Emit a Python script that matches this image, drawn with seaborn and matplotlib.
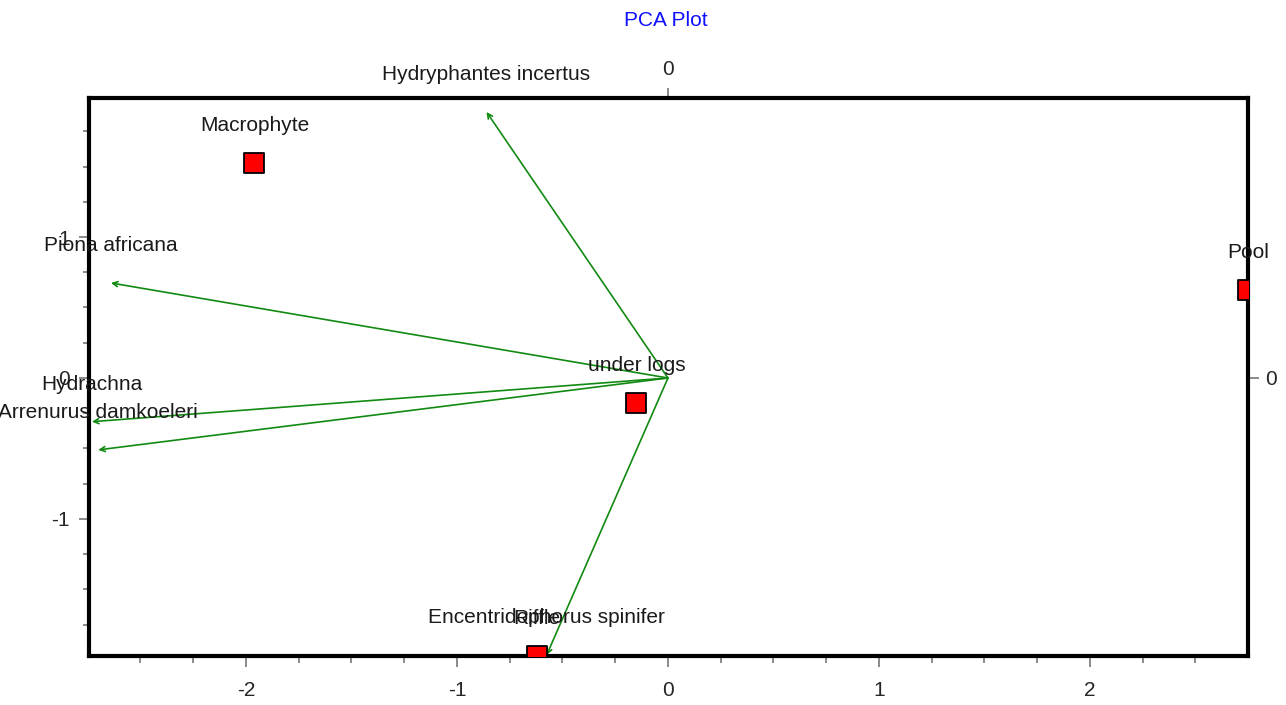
import matplotlib
matplotlib.use("Agg")
import matplotlib.pyplot as plt
import seaborn as sns
import pandas as pd
from matplotlib.ticker import MultipleLocator

# ---- data ----
sites = ["Macrophyte", "under logs", "Pool", "Riffle"]
site_x = [-1.96, -0.15, 2.749, -0.622]
site_y = [1.525, -0.18, 0.625, -1.972]

species = ["Hydryphantes incertus", "Piona africana", "Hydrachna",
           "Arrenurus damkoeleri", "Encentridophorus spinifer"]
sp_x = [-0.86, -2.64, -2.73, -2.70, -0.575]
sp_y = [1.887, 0.674, -0.31, -0.51, -1.965]

x_ticks = [-2, -1, 0, 1, 2]
y_ticks = [-1, 0, 1]
title = "PCA Plot"

sns.set_theme(style="white")
plt.rcParams["font.family"] = ["Liberation Sans", "DejaVu Sans"]
plt.rcParams["axes.unicode_minus"] = False

fig = plt.figure(figsize=(12.86, 7.05), dpi=100)
ax = fig.add_axes([89 / 1286, 1 - 656 / 705, (1248 - 89) / 1286, (656 - 98) / 705])

df_sites = pd.DataFrame({"site": sites, "x": site_x, "y": site_y})

green = "#128a12"
# species arrows
for name, x, y in zip(species, sp_x, sp_y):
    ax.annotate("", xy=(x, y), xytext=(0, 0),
                arrowprops=dict(arrowstyle="->", color=green, lw=1.2,
                                mutation_scale=9, shrinkA=0, shrinkB=0))
    ax.annotate(name, xy=(x, y), xytext=(0, 27), textcoords="offset points",
                ha="center", va="center", fontsize=15, color="#1a1a1a",
                annotation_clip=False)

sns.scatterplot(data=df_sites, x="x", y="y", ax=ax, marker="s", s=200,
                color="#ff0000", edgecolor="black", linewidth=1.3, zorder=3,
                legend=False)
for name, x, y in zip(sites, site_x, site_y):
    ax.annotate(name, xy=(x, y), xytext=(0, 27), textcoords="offset points",
                ha="center", va="center", fontsize=15, color="#1a1a1a",
                annotation_clip=False)

ax.set_xlim(-2.744, 2.749)
ax.set_ylim(-1.972, 1.986)
ax.set_xticks(x_ticks)
ax.set_yticks(y_ticks)
ax.xaxis.set_minor_locator(MultipleLocator(0.25))
ax.yaxis.set_minor_locator(MultipleLocator(0.25))
ax.set_xlabel("")
ax.set_ylabel("")
ax.tick_params(axis="x", which="major", direction="out", length=8, width=1.2,
               color="#777777", pad=10, labelsize=15, bottom=True)
ax.tick_params(axis="x", which="minor", direction="out", length=5, width=1.2,
               color="#777777", bottom=True)
ax.tick_params(axis="y", which="major", direction="out", length=7, width=1.2,
               color="#777777", pad=7, labelsize=15, left=True)
ax.tick_params(axis="y", which="minor", direction="out", length=4, width=1.2,
               color="#777777", left=True)
for s in ax.spines.values():
    s.set_color("black")
    s.set_linewidth(3)

top = ax.secondary_xaxis("top")
top.set_xticks([0])
top.tick_params(direction="out", length=7, width=1.2, color="#777777",
                pad=7, labelsize=15)
right = ax.secondary_yaxis("right")
right.set_yticks([0])
right.tick_params(direction="out", length=8, width=1.2, color="#777777",
                  pad=4, labelsize=15)

fig.text(666 / 1286, 1 - 20 / 705, title, color="#1010ff", fontsize=15,
         ha="center", va="center")

fig.savefig("out.png", dpi=100, facecolor="white")
